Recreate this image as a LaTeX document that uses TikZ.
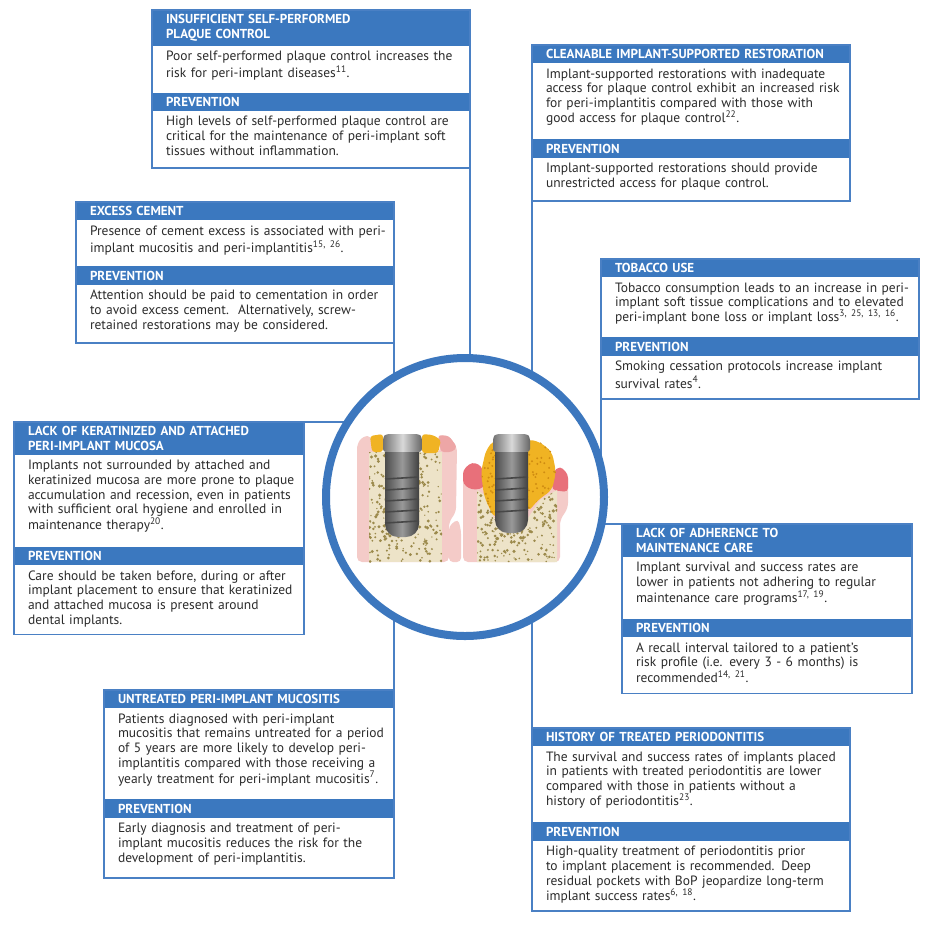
\documentclass[tikz,border=0pt]{standalone}
\usepackage{fontspec}
\setmainfont{PT Sans}
\usepackage{xcolor}
\usetikzlibrary{positioning, calc}
\definecolor{headblue}{HTML}{3B78BF}
\definecolor{frameblue}{HTML}{4A80C4}
\definecolor{ringblue}{HTML}{3C77BE}
\definecolor{txtgrey}{HTML}{2B2B2B}
\definecolor{gumpink}{HTML}{F4CBC8}
\definecolor{gumdark}{HTML}{EDA6A6}
\definecolor{gumred}{HTML}{E8707A}
\definecolor{bone}{HTML}{EDE3C8}
\definecolor{bonedot}{HTML}{9C8A4C}
\definecolor{plaque}{HTML}{F0B323}
\definecolor{plaquedot}{HTML}{CF8C12}
\newcommand{\bodyfont}{\fontsize{13.5}{14.7}\selectfont}
\newcommand{\headfont}{\fontsize{13}{14.5}\selectfont\bfseries}
% lines are broken by hand only
\newcommand{\lines}[2]{\vbox to #1pt{\rightskip=0pt plus 1fil minus 30pt\vskip4.5pt\strut #2\vfil}}
% one risk factor: title, text, prevention title, prevention text
\newcommand{\riskbox}[8]{%
	\node[head, #3, anchor=north west] (#1) at (#2) {#4};
	\node[body, #3, below=0pt of #1] (#1b) {\lines{#5}{#6}};
	\node[head, #3, below=0pt of #1b] (#1p) {PREVENTION};
	\node[body, #3, below=0pt of #1p] (#1q) {\lines{#7}{#8}};
	\draw[frame] (#1.north west) rectangle (#1q.south east);
}

\begin{document}
\begin{tikzpicture}[x=1pt, y=-1pt,
	head/.style={fill=headblue, text=white, font=\headfont, align=left, inner xsep=14pt, inner ysep=4.5pt, outer sep=0pt},
	body/.style={fill=white, text=txtgrey, font=\bodyfont, align=left, inner xsep=14pt, inner ysep=0pt, outer sep=0pt},
	wide/.style={text width=290pt},
	narrow/.style={text width=262pt},
	frame/.style={draw=frameblue, line width=1.3pt},
	link/.style={draw=frameblue, line width=1.3pt},
	thread/.style={draw=black!72, line width=1.6pt}]
	\useasboundingbox[fill=white] (0,0) rectangle (950,930);
	
	\riskbox{plaque}{152,10}{wide}{INSUFFICIENT SELF-PERFORMED\\PLAQUE CONTROL}{47}{Poor self-performed plaque control increases the\\risk for peri-implant diseases\textsuperscript{11}.}{57}{High levels of self-performed plaque control are\\critical for the maintenance of peri-implant soft\\tissues without inflammation.}
	\riskbox{clean}{532,45}{wide}{CLEANABLE IMPLANT-SUPPORTED RESTORATION}{76}{Implant-supported restorations with inadequate\\access for plaque control exhibit an increased risk\\for peri-implantitis compared with those with\\good access for plaque control\textsuperscript{22}.}{43}{Implant-supported restorations should provide\\unrestricted access for plaque control.}
	\riskbox{tob}{601,259}{wide}{TOBACCO USE}{60}{Tobacco consumption leads to an increase in peri-\\implant soft tissue complications and to elevated\\peri-implant bone loss or implant loss\textsuperscript{3, 25, 13, 16}.}{43}{Smoking cessation protocols increase implant\\survival rates\textsuperscript{4}.}
	\riskbox{cement}{76,202}{wide}{EXCESS CEMENT}{46}{Presence of cement excess is associated with peri-\\implant mucositis and peri-implantitis\textsuperscript{15, 26}.}{58}{Attention should be paid to cementation in order\\to avoid excess cement.\ \ Alternatively, screw-\\retained restorations may be considered.}
	\riskbox{muc}{14,422}{narrow}{LACK OF KERATINIZED AND ATTACHED\\PERI-IMPLANT MUCOSA}{92}{Implants not surrounded by attached and\\keratinized mucosa are more prone to plaque\\accumulation and recession, even in patients\\with sufficient oral hygiene and enrolled in\\maintenance therapy\textsuperscript{20}.}{69}{Care should be taken before, during or after\\implant placement to ensure that keratinized\\and attached mucosa is present around\\dental implants.}
	\riskbox{adh}{622,524}{narrow}{LACK OF ADHERENCE TO\\MAINTENANCE CARE}{62}{Implant survival and success rates are\\lower in patients not adhering to regular\\maintenance care programs\textsuperscript{17, 19}.}{56}{A recall interval tailored to a patient’s\\risk profile (i.e. every 3 - 6 months) is\\recommended\textsuperscript{14, 21}.}
	\riskbox{hist}{532,728}{wide}{HISTORY OF TREATED PERIODONTITIS}{76}{The survival and success rates of implants placed\\in patients with treated periodontitis are lower\\compared with those in patients without a\\history of periodontitis\textsuperscript{23}.}{70}{High-quality treatment of periodontitis prior\\to implant placement is recommended. Deep\\residual pockets with BoP jeopardize long-term\\implant success rates\textsuperscript{6, 18}.}
	\riskbox{untr}{104,690}{narrow}{UNTREATED PERI-IMPLANT MUCOSITIS}{91}{Patients diagnosed with peri-implant\\mucositis that remains untreated for a period\\of 5 years are more likely to develop peri-\\implantitis compared with those receiving a\\yearly treatment for peri-implant mucositis\textsuperscript{7}.}{60}{Early diagnosis and treatment of peri-\\implant mucositis reduces the risk for the\\development of peri-implantitis.}
	
	% connectors, the ring covers their ends
	\coordinate (ctr) at (465,497);
	\draw[link] (plaqueq.south east) -- (plaqueq.south east |- ctr);
	\draw[link] (cleanq.south west) -- (hist.north west);
	\draw[link] (cementq.south east) -- (untr.north east);
	\draw[link] (tobq.south west) -- (tobq.south west |- ctr);
	\draw[link] (muc.north east) -- (muc.north east -| ctr);
	\draw[link] (adh.north west) -- (adh.north west -| ctr);
	
	\node[circle, draw=ringblue, line width=8pt, fill=white, minimum size=278pt, inner sep=0pt] (ring) at (ctr) {};
	
	%% healthy implant
	\fill[gumpink, rounded corners=5] (357,562) -- (357,444) -- (363,436) -- (372,436) -- (372,452) -- (441,452) -- (438,435) -- (449,436) -- (457,447) -- (456,512) -- (449,522) -- (449,562) -- cycle;
	\fill[gumpink, rounded corners=4] (449,526) -- (458,519) -- (461,530) -- (461,562) -- (449,562) -- cycle;
	\fill[gumdark, rounded corners=3] (438,435) -- (449,436) -- (457,447) -- (452,452) -- (441,452) -- cycle;
	\fill[bone] (369,452) rectangle (442,562);
	\pgfmathsetseed{11}
	\begin{scope}
		\clip (369,452) rectangle (442,562);
		\foreach \i in {1,...,260} \fill[bonedot] (369+73*rnd, 452+110*rnd) circle[radius={0.7pt+1.1pt*rnd}];
	\end{scope}
	\fill[plaque, rounded corners=3] (370,436) -- (383,434) -- (383,452) -- (372,452) -- cycle;
	\fill[plaque, rounded corners=3] (422,434) -- (433,435) -- (441,440) -- (438,453) -- (422,453) -- cycle;
	\shade[left color=black!55, right color=black!60, middle color=black!15, rounded corners=3] (383,452) -- (383,437) -- (386,434) -- (419,434) -- (422,437) -- (422,452) -- cycle;
	\shade[left color=black!70, right color=black!75, middle color=black!40] (385,452) [rounded corners=13] -- (385,537) -- (419,537) [sharp corners] -- (419,452) -- cycle;
	\foreach \t in {479,490,501,512,523} \draw[thread] (385,\t) -- (419,\t-2);
	
	%% peri-implantitis
	\fill[gumpink, rounded corners=5] (463,562) -- (463,470) -- (472,462) -- (480,466) -- (482,480) -- (555,478) -- (560,468) -- (568,474) -- (568,508) -- (560,520) -- (560,562) -- cycle;
	\fill[gumred, rounded corners=4] (463,484) -- (463,470) -- (472,462) -- (482,466) -- (484,488) -- (472,490) -- cycle;
	\fill[gumred, rounded corners=4] (552,490) -- (553,472) -- (560,466) -- (568,474) -- (568,492) -- cycle;
	\fill[bone] (477,562) -- (477,490) -- (486,496) -- (494,518) -- (528,518) -- (540,500) -- (557,490) -- (557,562) -- cycle;
	\begin{scope}
		\clip (477,562) -- (477,490) -- (486,496) -- (494,518) -- (528,518) -- (540,500) -- (557,490) -- (557,562) -- cycle;
		\foreach \i in {1,...,220} \fill[bonedot] (477+80*rnd, 488+74*rnd) circle[radius={0.7pt+1.1pt*rnd}];
	\end{scope}
	\fill[plaque, rounded corners=6] (494,440) -- (486,450) -- (481,472) -- (484,496) -- (494,518) -- (500,516) -- (500,440) -- cycle;
	\fill[plaque, rounded corners=6] (527,439) -- (540,442) -- (552,452) -- (556,472) -- (552,490) -- (538,500) -- (528,512) -- cycle;
	\begin{scope}
		\clip (494,440) -- (486,450) -- (481,472) -- (484,496) -- (494,518) -- (500,516) -- (500,440) -- cycle (527,439) -- (540,442) -- (552,452) -- (556,472) -- (552,490) -- (538,500) -- (528,512) -- cycle;
		\foreach \i in {1,...,140} \fill[plaquedot] (480+77*rnd, 438+80*rnd) circle[radius=1.1pt];
	\end{scope}
	\shade[left color=black!55, right color=black!60, middle color=black!15, rounded corners=3] (493,452) -- (493,437) -- (496,434) -- (527,434) -- (530,437) -- (530,452) -- cycle;
	\shade[left color=black!70, right color=black!75, middle color=black!40] (495,452) [rounded corners=13] -- (495,533) -- (528,533) [sharp corners] -- (528,452) -- cycle;
	\foreach \t in {479,490,501,512} \draw[thread] (495,\t) -- (528,\t-2);
\end{tikzpicture}
\end{document}
